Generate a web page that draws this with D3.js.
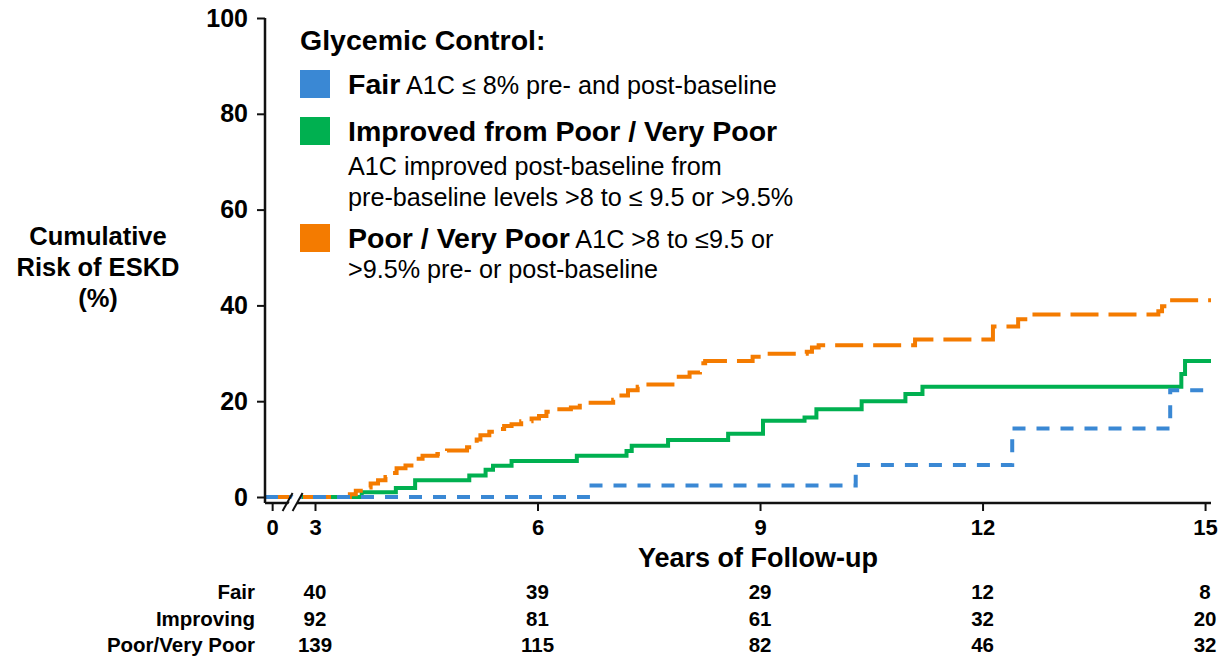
<!DOCTYPE html>
<html>
<head>
<meta charset="utf-8">
<script src="https://cdn.jsdelivr.net/npm/d3@7"></script>
<style>
  html, body { margin: 0; padding: 0; background: #fff; }
  svg { display: block; font-family: "Liberation Sans", Arial, sans-serif; }
</style>
</head>
<body>
<svg id="chart" width="1223" height="656"></svg>
<script>
// ---- Data: Kaplan–Meier style cumulative risk of ESKD (%) by glycemic control ----
// Each series: step times (years) and the cumulative risk reached at that time.
const fairTimes = [0, 6.68, 10.29, 12.40, 14.53, 15.08];
const fairRisk  = [0, 2.4, 6.7, 14.3, 22.3, 22.3];

const improvedTimes = [0, 3.63, 4.09, 4.35, 5.08, 5.30, 5.40, 5.65, 6.53, 7.20, 7.27, 7.76,
                       8.57, 9.04, 9.60, 9.76, 10.37, 10.96, 11.19, 14.68, 14.73, 15.08];
const improvedRisk  = [0, 1.0, 1.9, 3.5, 4.5, 5.7, 6.5, 7.5, 8.6, 9.6, 10.7, 11.9,
                       13.2, 15.9, 16.6, 18.3, 20.0, 21.5, 23.0, 25.7, 28.4, 28.4];

const poorTimes = [0, 3.47, 3.55, 3.65, 3.75, 3.85, 3.95, 4.03, 4.10, 4.22, 4.30, 4.37, 4.45,
                   4.65, 4.78, 5.05, 5.12, 5.18, 5.23, 5.35, 5.45, 5.55, 5.65, 5.78, 5.92,
                   6.02, 6.12, 6.20, 6.45, 6.57, 7.02, 7.10, 7.22, 7.35, 7.40, 7.85, 8.05,
                   8.19, 8.26, 8.90, 9.13, 9.63, 9.70, 9.79, 11.09, 12.14, 12.48, 12.70,
                   14.37, 14.42, 14.52, 15.08];
const poorRisk  = [0, 0.6, 1.3, 2.0, 2.8, 3.5, 4.2, 5.0, 6.0, 6.6, 7.2, 8.0, 8.6,
                   9.0, 9.7, 10.4, 11.0, 12.0, 12.9, 13.6, 14.2, 14.8, 15.2, 15.8, 16.4,
                   16.9, 17.8, 18.3, 18.7, 19.7, 20.3, 21.2, 22.3, 23.0, 23.5, 25.1, 26.0,
                   27.9, 28.4, 29.3, 29.9, 30.3, 31.2, 31.7, 32.9, 35.6, 37.1, 38.1,
                   38.8, 39.8, 41.1, 41.1];

// Axis ticks
const xTicks = [0, 3, 6, 9, 12, 15];
const yTicks = [0, 20, 40, 60, 80, 100];

// Numbers at risk table
const riskGroups = ["Fair", "Improving", "Poor/Very Poor"];
const riskTimes  = [3, 6, 9, 12, 15];
const riskFair      = [40, 39, 29, 12, 8];
const riskImproving = [92, 81, 61, 32, 20];
const riskPoor      = [139, 115, 82, 46, 32];

// Legend content
const legendTitle = "Glycemic Control:";
const legendBold  = ["Fair", "Improved from Poor / Very Poor", "Poor / Very Poor"];
const legendLines = [
  [" A1C ≤ 8% pre- and post-baseline"],
  ["A1C improved post-baseline from", "pre-baseline levels >8 to ≤ 9.5 or >9.5%"],
  [" A1C >8 to ≤9.5 or", ">9.5% pre- or post-baseline"]
];

// ---- Styling ----
const colors = { fair: "#3a88d4", improved: "#00b050", poor: "#f47b00" };

const svg = d3.select("#chart");

// Broken x scale: compressed 0–3 segment, then linear 3–15
const x = d3.scaleLinear().domain([-0.5, 3, 15.08]).range([265, 315, 1211]);
const y = d3.scaleLinear().domain([0, 100]).range([497, 18]);
const xAxisY = y(0) + 6;

// Series drawn bottom-to-top: green, orange, blue
const series = [
  { key: "improved", times: improvedTimes, risk: improvedRisk, dash: null },
  { key: "poor", times: poorTimes, risk: poorRisk, dash: "28,10" },
  { key: "fair", times: fairTimes, risk: fairRisk, dash: "13,11" }
];

const line = d3.line()
  .x(d => d.t === 0 ? x.range()[0] : x(d.t))
  .y(d => y(d.v))
  .curve(d3.curveStepAfter);

svg.append("g").selectAll("path")
  .data(series)
  .join("path")
  .attr("d", s => line(s.times.map((t, i) => ({ t, v: s.risk[i] }))))
  .attr("fill", "none")
  .attr("stroke", s => colors[s.key])
  .attr("stroke-width", 4)
  .attr("stroke-dasharray", s => s.dash);

// ---- Axes ----
const axisColor = "#111";

// Y axis
const yAxis = svg.append("g")
  .attr("transform", `translate(${x.range()[0]},0)`)
  .call(d3.axisLeft(y).tickValues(yTicks).tickSize(8).tickPadding(9));
yAxis.select(".domain").remove();
yAxis.selectAll(".tick line").attr("stroke", axisColor).attr("stroke-width", 2);
yAxis.selectAll(".tick text")
  .attr("font-size", 25).attr("font-weight", "bold").attr("fill", "#000")
  .attr("font-family", "Liberation Sans, Arial, sans-serif");
svg.append("line")
  .attr("x1", x.range()[0]).attr("x2", x.range()[0])
  .attr("y1", y(100)).attr("y2", xAxisY)
  .attr("stroke", axisColor).attr("stroke-width", 2.5);

// X axis
const xAxis = svg.append("g")
  .attr("transform", `translate(0,${xAxisY})`)
  .call(d3.axisBottom(x).tickValues(xTicks).tickFormat(d3.format("d")).tickSize(8).tickPadding(8));
xAxis.select(".domain").attr("stroke", axisColor).attr("stroke-width", 2.5)
  .attr("d", `M${x.range()[0]},0H${x.range()[2]}`);
xAxis.selectAll(".tick line").attr("stroke", axisColor).attr("stroke-width", 2);
xAxis.selectAll(".tick text")
  .attr("font-size", 22).attr("font-weight", "bold").attr("fill", "#000")
  .attr("font-family", "Liberation Sans, Arial, sans-serif");

// Axis break marks between 0 and 3
const bx = x(1.5);
const brk = svg.append("g");
brk.append("polygon")
  .attr("points", `${bx - 9},${xAxisY + 8} ${bx - 1},${xAxisY + 8} ${bx + 9},${xAxisY - 10} ${bx + 1},${xAxisY - 10}`)
  .attr("fill", "#fff");
[-6, 4].forEach(o => {
  brk.append("line")
    .attr("x1", bx + o - 5).attr("y1", xAxisY + 8)
    .attr("x2", bx + o + 5).attr("y2", xAxisY - 10)
    .attr("stroke", axisColor).attr("stroke-width", 2);
});

// Axis titles
svg.append("text")
  .attr("x", (x(3) + x(15)) / 2 - 2).attr("y", xAxisY + 64)
  .attr("text-anchor", "middle")
  .attr("font-size", 27).attr("font-weight", "bold")
  .text("Years of Follow-up");

const yTitle = svg.append("text")
  .attr("text-anchor", "middle")
  .attr("font-size", 25.5).attr("font-weight", "bold");
["Cumulative", "Risk of ESKD", "(%)"].forEach((s, i) => {
  yTitle.append("tspan").attr("x", 98).attr("y", 245 + i * 31).text(s);
});

// ---- Legend ----
const lg = svg.append("g");
lg.append("text")
  .attr("x", 300).attr("y", 50)
  .attr("font-size", 28.5).attr("font-weight", "bold")
  .text(legendTitle);

const legendKeys = ["fair", "improved", "poor"];
const legendTop = [70, 117, 224];
legendKeys.forEach((k, i) => {
  const top = legendTop[i];
  lg.append("rect")
    .attr("x", 300).attr("y", top).attr("width", 30).attr("height", 28)
    .attr("fill", colors[k]);
  const t = lg.append("text")
    .attr("x", 348).attr("y", top + 24)
    .attr("font-size", 28.5);
  t.append("tspan").attr("font-weight", "bold").text(legendBold[i]);
  const extra = legendLines[i];
  if (i === 1) {
    extra.forEach((s, j) => {
      lg.append("text")
        .attr("x", 348).attr("y", top + 58 + j * 31)
        .attr("font-size", 25.2)
        .text(s);
    });
  } else {
    t.append("tspan").attr("font-size", 25.2).text(extra[0]);
    if (extra[1]) {
      lg.append("text")
        .attr("x", 348).attr("y", top + 54)
        .attr("font-size", 25.2)
        .text(extra[1]);
    }
  }
});

// ---- Numbers at risk ----
const riskRows = [riskFair, riskImproving, riskPoor];
const rowY = [599, 626, 652];
const rt = svg.append("g").attr("font-size", 20.5).attr("font-weight", "bold");
riskGroups.forEach((g, i) => {
  rt.append("text")
    .attr("x", 255).attr("y", rowY[i])
    .attr("text-anchor", "end")
    .text(g);
  rt.selectAll(null)
    .data(riskRows[i])
    .join("text")
    .attr("x", (d, j) => x(riskTimes[j]))
    .attr("y", rowY[i])
    .attr("text-anchor", "middle")
    .text(d => d);
});
</script>
</body>
</html>
